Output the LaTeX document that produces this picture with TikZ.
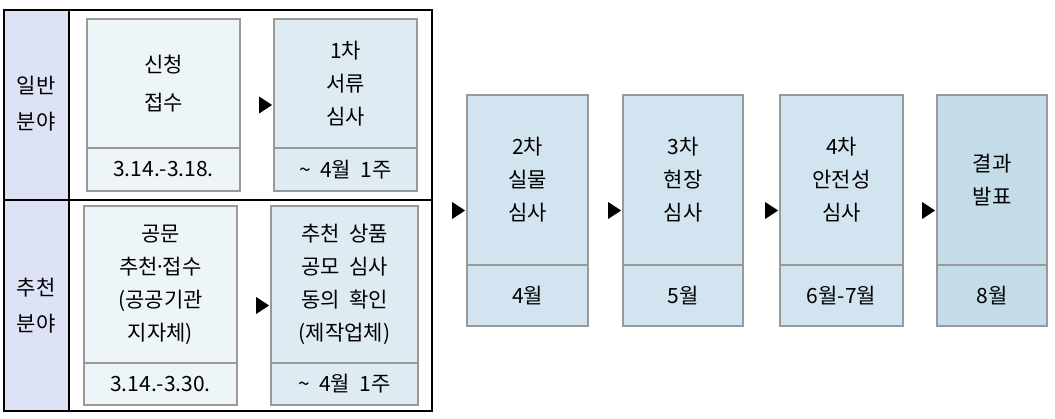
\documentclass[tikz,border=0pt]{standalone}
\usepackage{fontspec}
\setmainfont{Noto Sans CJK KR}
\usetikzlibrary{calc}
\definecolor{bgray}{HTML}{999999}
\definecolor{lav}{HTML}{DDE3F5}
\definecolor{cA}{HTML}{EEF5F9}
\definecolor{cB}{HTML}{DEEBF3}
\definecolor{cE}{HTML}{D2E4EF}
\definecolor{cH}{HTML}{C3DCE7}
\begin{document}
\begin{tikzpicture}[x=1pt,y=-1pt,
  part/.style={draw=bgray, line width=1.8pt, inner sep=0pt, align=center,
    font=\fontsize{21}{33}\selectfont},
  tri/.style={fill=black},
  grid/.style={draw=black, line width=1.3pt},
  lbl/.style={align=center, font=\fontsize{21}{36}\selectfont}]
\useasboundingbox (0,0) rectangle (1055,418);
% table
\fill[lav] (4,10) rectangle (69,411);
\draw[grid] (4,10) rectangle (432,411);
\draw[grid] (69,10) -- (69,411);
\draw[grid] (4,200) -- (432,200);
\node[lbl] (g1) at (36,104) {일반\\분야};
\node[lbl] (g2) at (36,305.5) {추천\\분야};
% general row
\node[part, fill=cA, minimum width=153pt, minimum height=129pt] (At) at (163.5,83.5) {신청\\[5pt]접수};
\node[part, fill=cA, minimum width=153pt, minimum height=43pt] (Ab) at (163.5,169.5) {3.14.-3.18.};
\node[part, fill=cB, minimum width=143pt, minimum height=129pt] (Bt) at (345.5,83.5) {1차\\서류\\심사};
\node[part, fill=cB, minimum width=143pt, minimum height=43pt] (Bb) at (345.5,169.5) {\textasciitilde\ \ 4월\ \ 1주};
% recommended row
\node[part, fill=cA, minimum width=153pt, minimum height=157pt] (Ct) at (160.5,284.5) {공문\\추천\kern-3.5pt·\kern-3.5pt접수\\(공공기관\\지자체)};
\node[part, fill=cA, minimum width=153pt, minimum height=42pt] (Cb) at (160.5,384) {3.14.-3.30.};
\node[part, fill=cB, minimum width=147pt, minimum height=157pt] (Dt) at (344.5,284.5) {추천\ \ 상품\\공모\ \ 심사\\동의\ \ 확인\\(제작업체)};
\node[part, fill=cB, minimum width=147pt, minimum height=42pt] (Db) at (344.5,384) {\textasciitilde\ \ 4월\ \ 1주};
% later stages
\node[part, fill=cE, minimum width=121pt, minimum height=170pt] (Et) at (527.5,180) {2차\\실물\\심사};
\node[part, fill=cE, minimum width=121pt, minimum height=61pt] (Eb) at (527.5,295.5) {4월};
\node[part, fill=cE, minimum width=120pt, minimum height=170pt] (Ft) at (683,180) {3차\\현장\\심사};
\node[part, fill=cE, minimum width=120pt, minimum height=61pt] (Fb) at (683,295.5) {5월};
\node[part, fill=cE, minimum width=123pt, minimum height=170pt] (Gt) at (841.5,180) {4차\\안전성\\심사};
\node[part, fill=cE, minimum width=123pt, minimum height=61pt] (Gb) at (841.5,295.5) {6월-7월};
\node[part, fill=cH, minimum width=110pt, minimum height=170pt] (Ht) at (992,180) {결과\\발표};
\node[part, fill=cH, minimum width=110pt, minimum height=61pt] (Hb) at (992,295.5) {8월};
% arrow markers
\foreach \t/\b in {Bt/Bb, Dt/Db, Et/Eb, Ft/Fb, Gt/Gb, Ht/Hb}{
  \coordinate (tip) at ($(\t.north west)!0.5!(\b.south west)+(-1,0)$);
  \fill[tri] (tip) -- ++(-13,-8.5) -- ++(0,17) -- cycle;
}
\end{tikzpicture}
\end{document}
